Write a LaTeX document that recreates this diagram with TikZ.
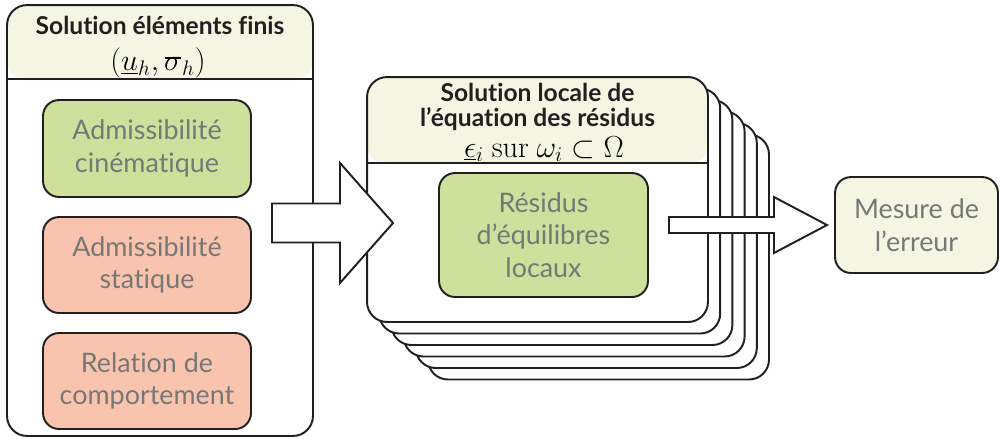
\documentclass[tikz,border=0pt]{standalone}
\usepackage{fix-cm}
\usepackage[no-math]{fontspec}
\setmainfont{Lato}[Ligatures=NoCommon]
\usetikzlibrary{calc,positioning}

\definecolor{entete}{HTML}{F4F6E3}
\definecolor{vert}{HTML}{CDE09C}
\definecolor{saumon}{HTML}{F9C4AD}
\definecolor{texte}{HTML}{777777}
\definecolor{trait}{HTML}{231F20}

% sigma barre (tenseur des contraintes)
\newcommand{\sigbarre}{\mbox{\ooalign{$\sigma$\cr\hidewidth\rule[0.39em]{0.52em}{0.045em}\hidewidth\cr}}}

% grosse fleche : depart, arrivee, demi-corps, demi-tete, longueur tete
\newcommand{\grandefleche}[5]{%
  \draw[fleche] ($(#1)+(0,-#3)$) -- ($(#2)+(-#5,-#3)$) -- ($(#2)+(-#5,-#4)$) -- (#2)
    -- ($(#2)+(-#5,#4)$) -- ($(#2)+(-#5,#3)$) -- ($(#1)+(0,#3)$) -- cycle;}

\tikzset{
  cadre/.style={draw=trait,line width=1.1pt,rounded corners=0.4cm},
  bloc/.style={draw=trait,line width=1.1pt,rounded corners=0.32cm,text=texte,align=center,
    font=\fontsize{15.3}{18.5}\selectfont,inner sep=0pt},
  titre/.style={align=center,text=trait,inner sep=0pt,font=\fontsize{14}{14.2}\selectfont\bfseries},
  formule/.style={inner sep=0pt,font=\fontsize{17.28}{20}\selectfont},
  fleche/.style={draw=trait,fill=white,line width=1.1pt,line join=miter},
  entetebox/.style={path picture={\fill[entete] (path picture bounding box.north west)
    rectangle ($(path picture bounding box.north east)+(0,#1)$);}},
}

\begin{document}
\begin{tikzpicture}[x=0.02cm,y=-0.02cm]
\useasboundingbox (0,0) rectangle (1000,441);

% solution elements finis
\node[cadre,fill=white,entetebox=75,minimum width=6.12cm,minimum height=8.62cm] (fe) at (160,220.5) {};
\draw[draw=trait,line width=1.1pt] ($(fe.north west)+(0,75)$) -- ($(fe.north east)+(0,75)$);
\node[titre] (fetitre) at (160,25) {Solution éléments finis};
\node[formule] (feeq) at (158,63) {$(\underline{u}_h,\sigbarre_h)$};

\node[bloc,fill=vert,minimum width=4.16cm,minimum height=1.94cm] (cin) at (147,148.5) {Admissibilité\\cinématique};
\node[bloc,fill=saumon,minimum width=4.16cm,minimum height=1.92cm] (stat) at (147,265) {Admissibilité\\statique};
\node[bloc,fill=saumon,minimum width=4.16cm,minimum height=1.92cm] (rel) at (147,381) {Relation de\\comportement};

% pile des problemes locaux
\foreach \k in {5,4,3,2,1}
  \draw[cadre,fill=white] (367+12.2*\k,77+11.5*\k) rectangle +(341,245);

\node[cadre,fill=white,entetebox=87,minimum width=6.82cm,minimum height=4.9cm] (loc) at (537.5,199.5) {};
\draw[draw=trait,line width=1.1pt] ($(loc.north west)+(0,87)$) -- ($(loc.north east)+(0,87)$);
\node[titre] (loctitre) at (537.5,107) {Solution locale de\\l’équation des résidus};
\node[formule] (loceq) at (544,149) {$\underline{\epsilon}_i\ \mathrm{sur}\ \omega_i\subset\Omega$};

\node[bloc,fill=vert,minimum width=4.18cm,minimum height=2.48cm] (res) at (543.5,235) {Résidus\\d’équilibres\\locaux};

% mesure
\node[bloc,fill=entete,minimum width=3.26cm,minimum height=1.92cm] (mes) at (916.5,225) {Mesure de\\l’erreur};

% fleches
\coordinate (f1a) at (272,223);
\coordinate (f1b) at (393,223);
\coordinate (f2a) at (669,225);
\coordinate (f2b) at (827,225);
\grandefleche{f1a}{f1b}{19.5}{60}{53}
\grandefleche{f2a}{f2b}{8}{28}{53}

\end{tikzpicture}
\end{document}
